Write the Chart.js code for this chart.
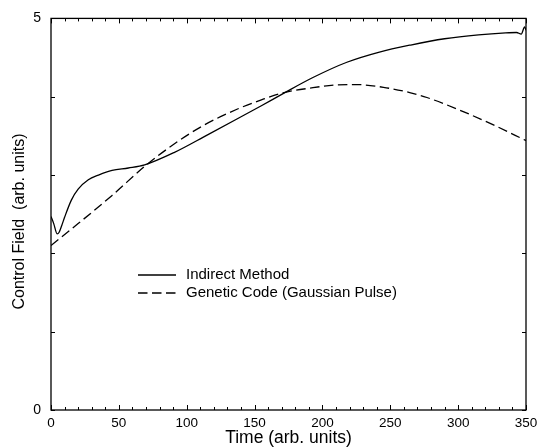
<!DOCTYPE html>
<html>
<head>
<meta charset="utf-8">
<script src="https://cdn.jsdelivr.net/npm/chart.js@4"></script>
<style>
  html, body { margin: 0; padding: 0; background: #fff; }
  #wrap { width: 543px; height: 447px; position: relative; }
</style>
</head>
<body>
<div id="wrap"><canvas id="c" width="543" height="447"></canvas></div>
<script>
// Indirect Method (solid)
const indirectTime = [0, 2, 4.5, 6, 8, 10, 15, 20, 27.5, 35, 45, 57, 69, 91, 115, 137, 155, 171, 193, 218, 242, 265, 290, 315, 335, 343, 346.5, 349, 350];
const indirectField = [2.47, 2.38, 2.25, 2.27, 2.36, 2.46, 2.68, 2.82, 2.94, 3.00, 3.06, 3.09, 3.13, 3.29, 3.51, 3.715, 3.885, 4.04, 4.245, 4.44, 4.57, 4.66, 4.74, 4.79, 4.815, 4.82, 4.80, 4.89, 4.85];
// Genetic Code (Gaussian Pulse) (dashed)
const geneticTime = [0, 20, 45, 69, 91, 112, 137, 155, 171, 191, 210, 225, 245, 265, 277, 301, 326, 350];
const geneticField = [2.10, 2.38, 2.74, 3.11, 3.40, 3.63, 3.84, 3.96, 4.05, 4.11, 4.15, 4.155, 4.12, 4.05, 3.99, 3.83, 3.64, 3.44];
// axis ticks
const xTickLabels = [0, 50, 100, 150, 200, 250, 300, 350];
const yTickLabels = [0, 5];
const seriesNames = ["Indirect Method", "Genetic Code (Gaussian Pulse)"];
const xTitle = "Time (arb. units)";
const yTitle = "Control Field  (arb. units)";

const FONT = "'Liberation Sans', Arial, sans-serif";

const toXY = (xs, ys) => xs.map((x, i) => ({ x: x, y: ys[i] }));

const framePlugin = {
  id: 'frame',
  afterDatasetsDraw(chart) {
    const ctx = chart.ctx;
    const a = chart.chartArea;
    const xs = chart.scales.x, ys = chart.scales.y;
    ctx.save();
    ctx.strokeStyle = '#000';
    ctx.lineWidth = 1.3;
    ctx.strokeRect(a.left, a.top, a.right - a.left, a.bottom - a.top);
    ctx.lineWidth = 1;
    // x ticks every 10, major every 50
    for (let v = 0; v <= 350; v += 10) {
      const px = Math.round(xs.getPixelForValue(v)) + 0.5;
      const len = (v % 50 === 0) ? 5 : 3;
      ctx.beginPath();
      ctx.moveTo(px, a.bottom); ctx.lineTo(px, a.bottom - len);
      ctx.moveTo(px, a.top); ctx.lineTo(px, a.top + len);
      ctx.stroke();
    }
    // y ticks every 1
    for (let v = 0; v <= 5; v += 1) {
      const py = Math.round(ys.getPixelForValue(v)) + 0.5;
      ctx.beginPath();
      ctx.moveTo(a.left, py); ctx.lineTo(a.left + 4, py);
      ctx.moveTo(a.right, py); ctx.lineTo(a.right - 4, py);
      ctx.stroke();
    }
    // legend
    ctx.lineWidth = 1.3;
    const lx0 = 138, lx1 = 176;
    const ly1 = 275, ly2 = 293;
    ctx.setLineDash([]);
    ctx.beginPath(); ctx.moveTo(lx0, ly1); ctx.lineTo(lx1, ly1); ctx.stroke();
    ctx.setLineDash([9.5, 4.5]);
    ctx.beginPath(); ctx.moveTo(lx0, ly2); ctx.lineTo(lx1, ly2); ctx.stroke();
    ctx.setLineDash([]);
    ctx.fillStyle = '#000';
    ctx.font = '15px ' + FONT;
    ctx.textBaseline = 'middle';
    ctx.textAlign = 'left';
    ctx.fillText(seriesNames[0], 186, ly1);
    ctx.fillText(seriesNames[1], 186, ly2);
    // y axis title
    ctx.translate(20, 221.5);
    ctx.rotate(-Math.PI / 2);
    ctx.textAlign = 'center';
    ctx.font = '16px ' + FONT;
    ctx.fillText(yTitle, 0, 0);
    ctx.restore();
  }
};

new Chart(document.getElementById('c'), {
  type: 'line',
  data: {
    datasets: [
      {
        label: seriesNames[0],
        data: toXY(indirectTime, indirectField),
        borderColor: '#000',
        borderWidth: 1.3,
        pointRadius: 0,
        cubicInterpolationMode: 'monotone',
        fill: false
      },
      {
        label: seriesNames[1],
        data: toXY(geneticTime, geneticField),
        borderColor: '#000',
        borderWidth: 1.3,
        borderDash: [9.5, 4.5],
        pointRadius: 0,
        cubicInterpolationMode: 'monotone',
        fill: false
      }
    ]
  },
  options: {
    responsive: false,
    animation: false,
    layout: { padding: { left: 0, right: 17, top: 15, bottom: 0 } },
    plugins: { legend: { display: false }, tooltip: { enabled: false } },
    scales: {
      x: {
        type: 'linear',
        min: 0, max: 350,
        afterBuildTicks: (s) => { s.ticks = xTickLabels.map(v => ({ value: v })); },
        afterFit: (s) => { s.height = 37; },
        grid: { display: false, drawTicks: false },
        border: { display: false },
        ticks: { color: '#000', font: { family: FONT, size: 13.5 }, padding: 5, maxRotation: 0, autoSkip: false },
        title: { display: true, text: xTitle, color: '#000', font: { family: FONT, size: 17.5, lineHeight: 1 }, padding: { top: 0, bottom: 0 } }
      },
      y: {
        type: 'linear',
        min: 0, max: 5,
        afterBuildTicks: (s) => { s.ticks = yTickLabels.map(v => ({ value: v })); },
        afterFit: (s) => { s.width = 51; },
        grid: { display: false, drawTicks: false },
        border: { display: false },
        ticks: { color: '#000', font: { family: FONT, size: 14 }, padding: 10 },
        title: { display: false }
      }
    }
  },
  plugins: [framePlugin]
});
</script>
</body>
</html>
